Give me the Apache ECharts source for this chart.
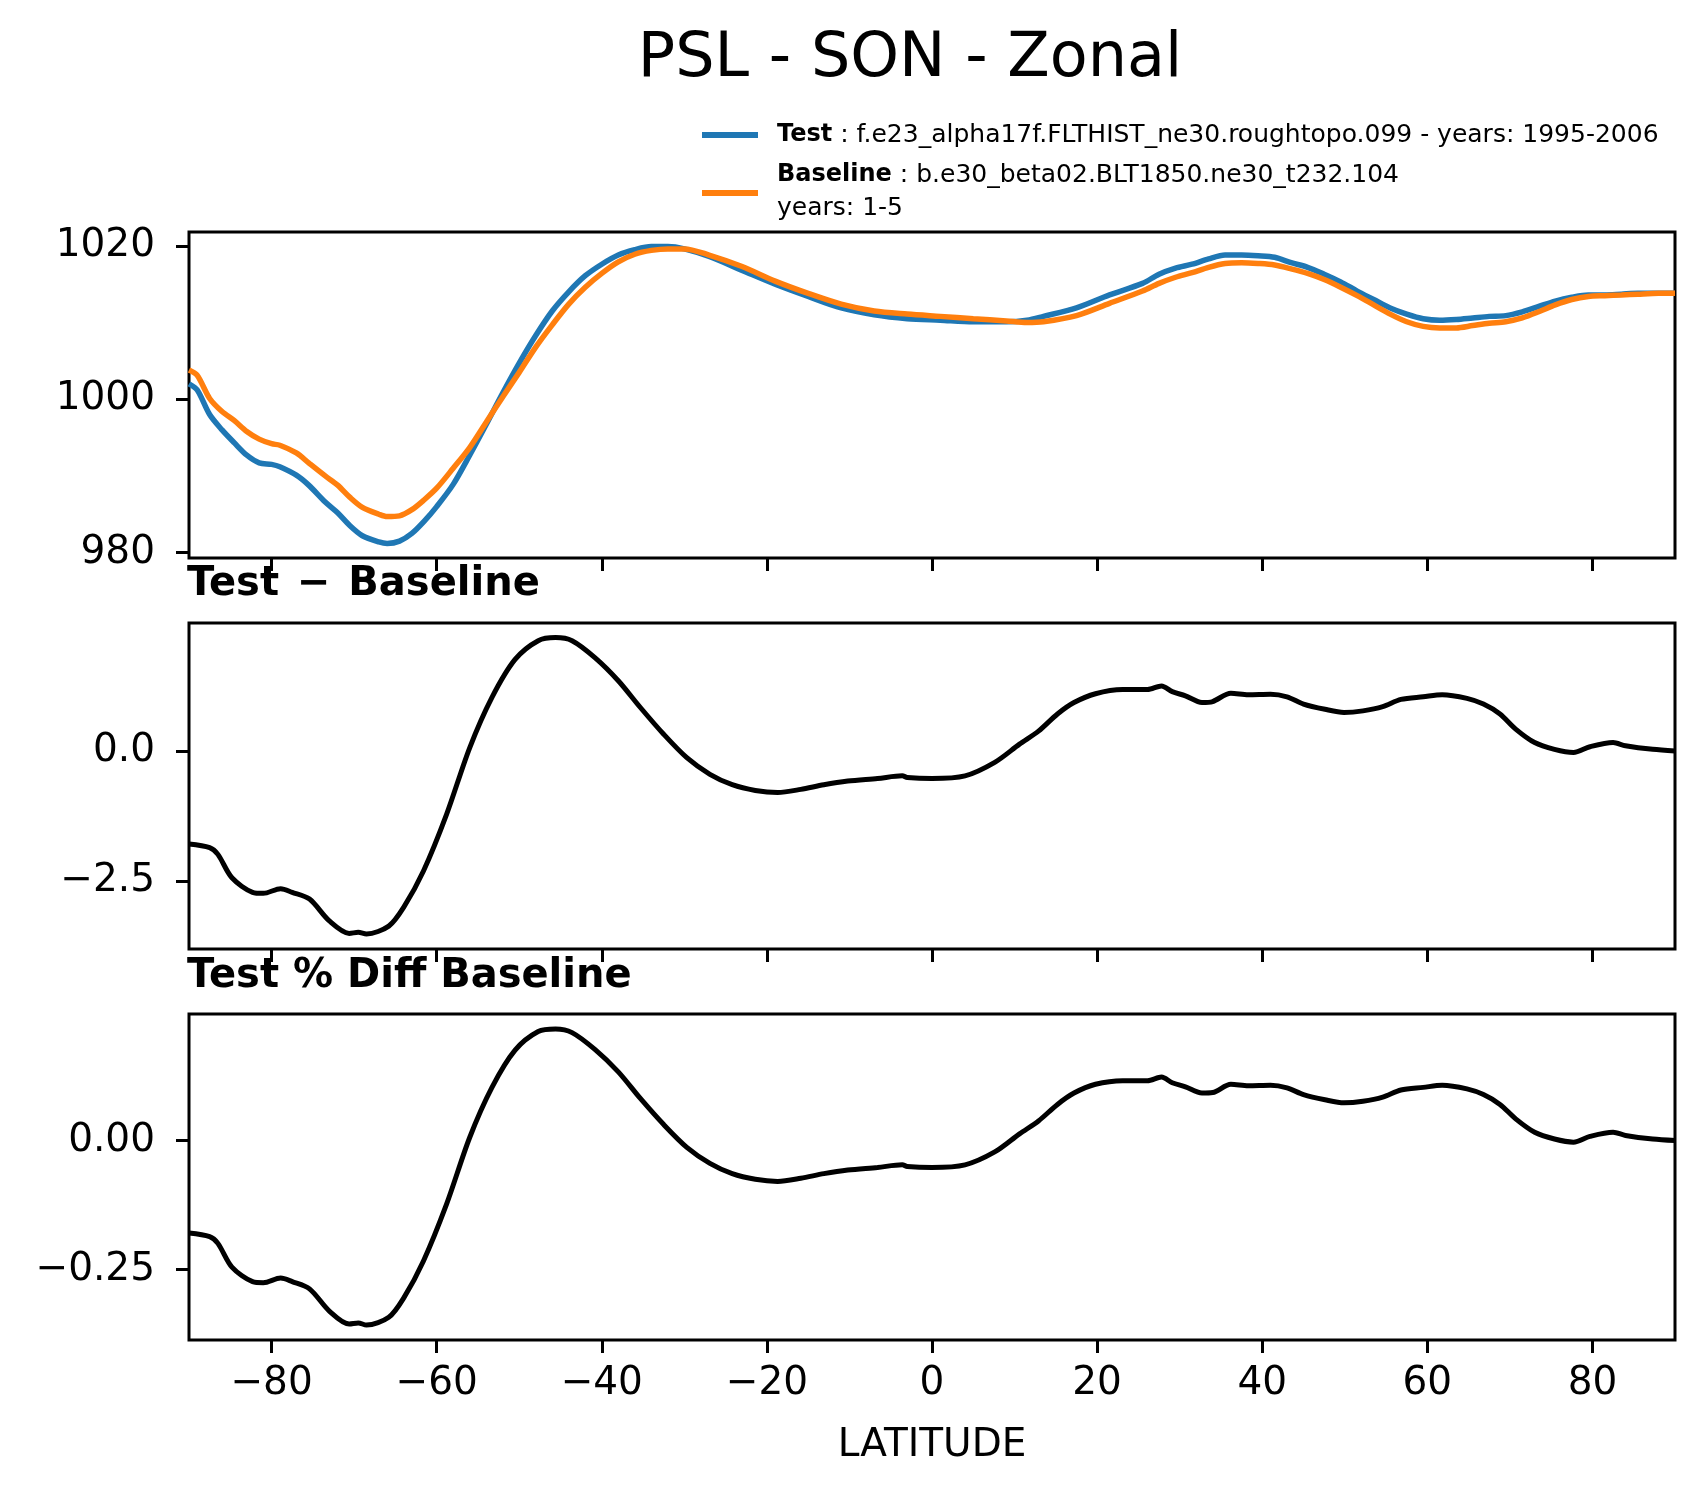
<!DOCTYPE html>
<html>
<head>
<meta charset="utf-8">
<title>PSL - SON - Zonal</title>
<script src="https://cdn.jsdelivr.net/npm/echarts@6/dist/echarts.min.js"></script>
<style>
  html, body { margin: 0; padding: 0; background: #fff; }
  #chart { width: 1704px; height: 1496px; }
</style>
</head>
<body>
<div id="chart"></div>
<script>
// latitude grid for the two PSL curves (top panel)
const lat = [-90, -89, -87.5, -86, -84.5, -83, -81.5, -80, -79, -77, -75.5, -73.5, -72, -70.5, -69, -67, -66, -64.5, -63, -61.5,
  -60, -58, -56, -54, -52, -50, -48, -46, -44, -42, -40, -38, -36, -34, -32, -30, -27, -23, -19, -15, -11, -7, -3, 1, 5, 9,
  11.5, 13.5, 17.5, 21.5, 25.5, 27.5, 29.5, 31.5, 33.5, 35.5, 37.5, 39.5, 41.5, 43.5, 45.5, 47.5, 49.5, 51.5, 53.5, 55.5,
  57.5, 59.5, 61.5, 63.5, 65.5, 67.5, 69.5, 71.5, 73.5, 75.5, 77.5, 79.5, 81.5, 83.5, 85.5, 88, 90]

const testPsl = [1002.0, 1001.2, 998.0, 996.0, 994.3, 992.7, 991.7, 991.5, 991.2, 990.1, 988.8, 986.6, 985.2, 983.5, 982.2, 981.4, 981.2, 981.5, 982.5, 984.1,
  986.0, 988.9, 992.7, 996.7, 1000.8, 1004.7, 1008.3, 1011.5, 1014.0, 1016.1, 1017.6, 1018.8, 1019.5, 1019.9, 1019.9, 1019.6, 1018.6, 1016.8, 1015.0, 1013.4, 1011.9, 1011.0, 1010.5, 1010.3, 1010.1, 1010.1,
  1010.3, 1010.8, 1011.9, 1013.6, 1015.1, 1016.3, 1017.1, 1017.6, 1018.3, 1018.8, 1018.8, 1018.7, 1018.5, 1017.8, 1017.2, 1016.3, 1015.3, 1014.1, 1013.0, 1011.9,
  1011.1, 1010.5, 1010.3, 1010.4, 1010.6, 1010.8, 1010.9, 1011.4, 1012.1, 1012.8, 1013.3, 1013.6, 1013.6, 1013.7, 1013.8, 1013.8, 1013.8]

const basePsl = [1003.8, 1003.1, 1000.1, 998.4, 997.2, 995.8, 994.8, 994.2, 994.0, 993.0, 991.7, 990.0, 988.8, 987.2, 985.9, 985.0, 984.7, 984.8, 985.6, 986.9,
  988.4, 991.0, 993.7, 997.0, 1000.3, 1003.5, 1006.8, 1009.7, 1012.4, 1014.6, 1016.4, 1017.9, 1018.9, 1019.4, 1019.6, 1019.6, 1018.8, 1017.3, 1015.4, 1013.8, 1012.4, 1011.5, 1011.1, 1010.8, 1010.5, 1010.2,
  1010.0, 1010.1, 1010.9, 1012.5, 1014.1, 1015.1, 1015.9, 1016.5, 1017.2, 1017.7, 1017.8, 1017.7, 1017.5, 1017.0, 1016.4, 1015.6, 1014.6, 1013.5, 1012.3, 1011.1,
  1010.1, 1009.5, 1009.3, 1009.3, 1009.6, 1009.9, 1010.1, 1010.6, 1011.4, 1012.3, 1013.0, 1013.4, 1013.5, 1013.6, 1013.7, 1013.8, 1013.8]

// latitude grid for the difference panels
const diffLat = [-90, -87.5, -86.5, -84.8, -82.3, -81, -78.9, -77.5, -75.4, -73, -70.6, -69.5, -68.5, -65.8, -64, -61.6, -58.8, -56,
  -53.3, -50.5, -47.7, -45.6, -43.6, -40.8, -38, -35.3, -32.5, -29.7, -26.9, -24.2, -21.4, -18.7, -15.9, -13.1, -10.2, -6.6, -3.6, -3.0,
  0, 4, 7.6, 10.6, 12.9, 15.2, 17.2, 19.8, 23.1, 26.1, 27.8, 29.1, 30.7, 32.7, 34, 36.2, 38.3, 41, 43, 45, 47.6, 49.9, 52.2, 54.6,
  56.8, 59.5, 61.8, 64.8, 66.8, 68.8, 70.7, 73, 75.4, 77.7, 79.7, 82.5, 84, 87.3, 90]

const diffVal = [-1.79, -1.86, -1.99, -2.44, -2.72, -2.74, -2.65, -2.72, -2.85, -3.27, -3.51, -3.49, -3.52, -3.37, -3.01, -2.31, -1.22, 0.06,
  1.03, 1.76, 2.12, 2.18, 2.12, 1.79, 1.35, 0.83, 0.32, -0.13, -0.45, -0.65, -0.76, -0.80, -0.74, -0.65, -0.58, -0.53, -0.48, -0.51,
  -0.53, -0.48, -0.22, 0.13, 0.38, 0.71, 0.93, 1.10, 1.18, 1.18, 1.25, 1.14, 1.06, 0.93, 0.95, 1.11, 1.08, 1.09, 1.04, 0.90, 0.80, 0.74, 0.77, 0.85,
  0.99, 1.04, 1.08, 1.01, 0.90, 0.71, 0.42, 0.16, 0.03, -0.03, 0.08, 0.16, 0.10, 0.03, 0.0]

const pctVal = [-0.179, -0.186, -0.199, -0.245, -0.273, -0.275, -0.266, -0.273, -0.287, -0.330, -0.355, -0.353, -0.357, -0.342, -0.305, -0.233, -0.123, 0.006,
  0.103, 0.175, 0.211, 0.216, 0.209, 0.176, 0.133, 0.081, 0.031, -0.013, -0.044, -0.064, -0.075, -0.079, -0.073, -0.064, -0.057, -0.052, -0.047, -0.050,
  -0.052, -0.047, -0.022, 0.013, 0.038, 0.070, 0.092, 0.109, 0.116, 0.116, 0.123, 0.112, 0.104, 0.092, 0.093, 0.109, 0.106, 0.107, 0.102, 0.089, 0.079, 0.073, 0.076, 0.084,
  0.098, 0.103, 0.107, 0.100, 0.089, 0.070, 0.042, 0.016, 0.003, -0.003, 0.008, 0.016, 0.010, 0.003, 0.000]

const latTicks = [-80, -60, -40, -20, 0, 20, 40, 60, 80]
const pslTicks = [980, 1000, 1020]
const diffTicks = [-2.5, 0]
const pctTicks = [-0.25, 0]

const FONT = 'DejaVu Sans'
const chart = echarts.init(document.getElementById('chart'), null, { renderer: 'canvas' })

const pairs = (xs, ys) => xs.map((x, i) => [x, ys[i]])
const fmt = d => v => (v < 0 ? '\u2212' : '') + Math.abs(v).toFixed(d)

const grids = [
  { left: 189, width: 1486, top: 232, height: 326 },
  { left: 189, width: 1486, top: 623, height: 326 },
  { left: 189, width: 1486, top: 1014, height: 326 }
].map(g => Object.assign(g, { show: true, borderColor: '#000', borderWidth: 3, backgroundColor: 'transparent' }))

const xAxis = [0, 1, 2].map(i => ({
  type: 'value', gridIndex: i, min: -90, max: 90,
  axisLine: { show: false, onZero: false }, splitLine: { show: false },
  axisTick: { customValues: latTicks, length: 13, lineStyle: { color: '#000', width: 3 } },
  axisLabel: { show: i === 2, customValues: latTicks, formatter: fmt(0), fontSize: 39, color: '#000', fontFamily: FONT, margin: 24 },
  name: i === 2 ? 'LATITUDE' : '', nameLocation: 'middle', nameGap: 86,
  nameTextStyle: { fontSize: 39, color: '#000', fontFamily: FONT }
}))

const yAxis = [
  { min: 979.3, max: 1021.8, ticks: pslTicks, d: 0 },
  { min: -3.81, max: 2.46, ticks: diffTicks, d: 1 },
  { min: -0.386, max: 0.245, ticks: pctTicks, d: 2 }
].map((a, i) => ({
  type: 'value', gridIndex: i, min: a.min, max: a.max,
  axisLine: { show: false, onZero: false }, splitLine: { show: false },
  axisTick: { customValues: a.ticks, length: 13, lineStyle: { color: '#000', width: 3 } },
  axisLabel: { customValues: a.ticks, formatter: fmt(a.d), fontSize: 39, color: '#000', fontFamily: FONT, margin: 34 }
}))

const line = (name, xi, data, color, w) => ({
  name, type: 'line', xAxisIndex: xi, yAxisIndex: xi, data,
  showSymbol: false, smooth: 0.3, lineStyle: { color, width: w }, itemStyle: { color }, animation: false
})

const series = [
  line('Test', 0, pairs(lat, testPsl), '#1f77b4', 5.5),
  line('Baseline', 0, pairs(lat, basePsl), '#ff7f0e', 5.5),
  line('Test - Baseline', 1, pairs(diffLat, diffVal), '#000', 5),
  line('Test % Diff Baseline', 2, pairs(diffLat, pctVal), '#000', 5)
]

const legendRich = {
  b: { fontSize: 24, fontWeight: 'bold', fontFamily: FONT, fill: '#000' },
  r: { fontSize: 25, fontFamily: FONT, fill: '#000' }
}

const graphic = [
  { type: 'text', x: 910, y: 60, style: { text: 'PSL - SON - Zonal', fontSize: 62, fontFamily: FONT, fill: '#000', align: 'center', verticalAlign: 'middle' } },
  { type: 'text', x: 187, y: 585, style: { text: 'Test \u200a\u2212\u200a Baseline', fontSize: 40, fontWeight: 'bold', fontFamily: FONT, fill: '#000', verticalAlign: 'middle' } },
  { type: 'text', x: 187, y: 977, style: { text: 'Test % Diff Baseline', fontSize: 40, fontWeight: 'bold', fontFamily: FONT, fill: '#000', verticalAlign: 'middle' } },
  // legend
  { type: 'line', shape: { x1: 702, y1: 135, x2: 758, y2: 135 }, style: { stroke: '#1f77b4', lineWidth: 6 } },
  { type: 'line', shape: { x1: 702, y1: 193, x2: 758, y2: 193 }, style: { stroke: '#ff7f0e', lineWidth: 6 } },
  { type: 'text', x: 777, y: 135, style: {
    text: '{b|Test}{r| : f.e23_alpha17f.FLTHIST_ne30.roughtopo.099 - years: 1995-2006}', verticalAlign: 'middle', rich: legendRich } },
  { type: 'text', x: 777, y: 175, style: {
    text: '{b|Baseline}{r| : b.e30_beta02.BLT1850.ne30_t232.104}', verticalAlign: 'middle', rich: legendRich } },
  { type: 'text', x: 777, y: 208, style: { text: 'years: 1-5', fontSize: 25, fontFamily: FONT, fill: '#000', verticalAlign: 'middle' } }
]

chart.setOption({
  backgroundColor: '#fff',
  animation: false,
  textStyle: { fontFamily: FONT },
  grid: grids,
  xAxis,
  yAxis,
  series,
  graphic
})
</script>
</body>
</html>
